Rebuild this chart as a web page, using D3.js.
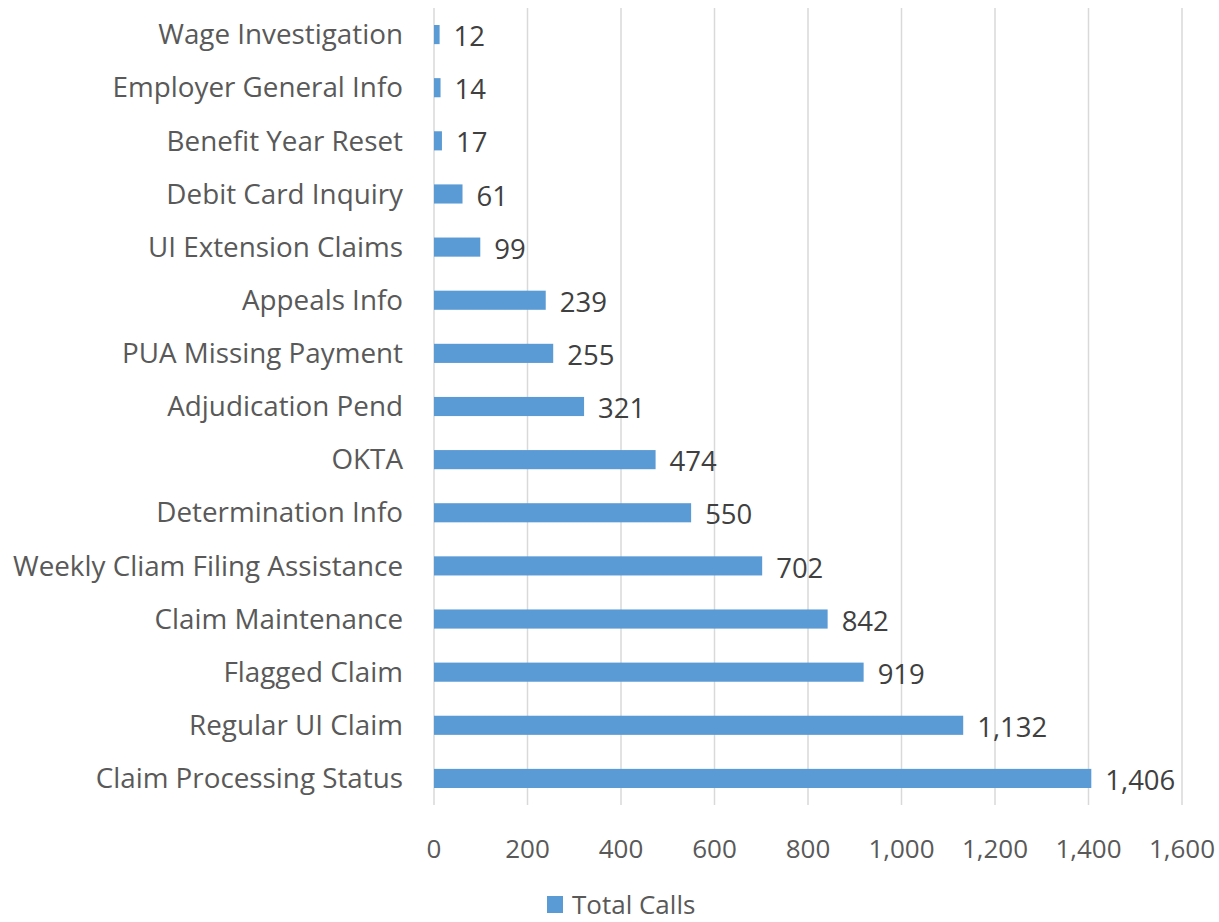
<!DOCTYPE html>
<html>
<head>
<meta charset="utf-8">
<script src="https://cdn.jsdelivr.net/npm/d3@7"></script>
<style>
  body { margin: 0; background: #fff; }
  text { font-family: "Open Sans", sans-serif; }
</style>
</head>
<body>
<div id="chart"></div>
<script>
// categories top to bottom, as in the picture
const categories = [
    "Wage Investigation", "Employer General Info", "Benefit Year Reset",
    "Debit Card Inquiry", "UI Extension Claims", "Appeals Info",
    "PUA Missing Payment", "Adjudication Pend", "OKTA", "Determination Info",
    "Weekly Cliam Filing Assistance", "Claim Maintenance", "Flagged Claim",
    "Regular UI Claim", "Claim Processing Status"
];
const totalCalls = [12, 14, 17, 61, 99, 239, 255, 321, 474, 550, 702, 842, 919, 1132, 1406];
const xTicks = [0, 200, 400, 600, 800, 1000, 1200, 1400, 1600];
const seriesName = "Total Calls";

const width = 1219, height = 922;
const margin = { top: 8, right: 37, bottom: 117, left: 434 };

const svg = d3.select("#chart").append("svg")
    .attr("width", width)
    .attr("height", height);

const x = d3.scaleLinear()
    .domain([0, 1600])
    .range([margin.left, width - margin.right]);

const y = d3.scaleBand()
    .domain(categories)
    .range([margin.top, height - margin.bottom])
    .paddingInner(0.64)
    .paddingOuter(0.32);

// gridlines
svg.append("g")
    .selectAll("line")
    .data(xTicks)
    .join("line")
    .attr("x1", d => x(d)).attr("x2", d => x(d))
    .attr("y1", margin.top).attr("y2", height - margin.bottom)
    .attr("stroke", "#d9d9d9")
    .attr("stroke-width", 1.5);

// x tick labels
const fmt = d3.format(",");
svg.append("g")
    .selectAll("text")
    .data(xTicks)
    .join("text")
    .attr("x", d => x(d))
    .attr("y", 858)
    .attr("text-anchor", "middle")
    .attr("font-size", 26)
    .attr("fill", "#595959")
    .text(d => fmt(d));

// category labels
svg.append("g")
    .selectAll("text")
    .data(categories)
    .join("text")
    .attr("x", 403)
    .attr("y", d => y(d) + y.bandwidth() / 2)
    .attr("dy", "0.35em")
    .attr("text-anchor", "end")
    .attr("font-size", 27.8)
    .attr("fill", "#595959")
    .text(d => d);

// bars
svg.append("g")
    .selectAll("rect")
    .data(totalCalls)
    .join("rect")
    .attr("x", x(0))
    .attr("y", (d, i) => y(categories[i]))
    .attr("width", d => x(d) - x(0))
    .attr("height", y.bandwidth())
    .attr("fill", "#5b9bd5");

// data labels
svg.append("g")
    .selectAll("text")
    .data(totalCalls)
    .join("text")
    .attr("x", d => x(d) + 14)
    .attr("y", (d, i) => y(categories[i]) + y.bandwidth() / 2 + 2)
    .attr("dy", "0.35em")
    .attr("font-size", 27.5)
    .attr("fill", "#404040")
    .text(d => fmt(d));

// legend (kept just inside the bottom edge)
const legend = svg.append("g");
legend.append("rect")
    .attr("x", 547).attr("y", 896)
    .attr("width", 16).attr("height", 17)
    .attr("fill", "#5b9bd5");
legend.append("text")
    .attr("x", 572).attr("y", 914)
    .attr("font-size", 26)
    .attr("fill", "#595959")
    .text(seriesName);
</script>
</body>
</html>
